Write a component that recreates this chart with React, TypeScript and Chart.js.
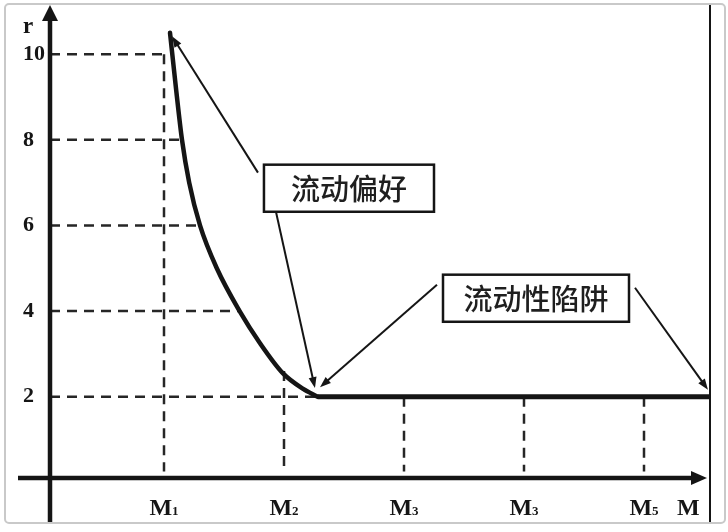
import React, { useEffect, useRef } from "react";
import { Chart, registerables } from "chart.js";

Chart.register(...registerables);

// ---- data ----
const yTicks = [2, 4, 6, 8, 10];
const xTicks = [1, 2, 3, 4, 5];
const xTickNames = ["M", "M", "M", "M", "M"];
const xTickSubs = ["1", "2", "3", "3", "5"];
const xAxisTitle = "M";
const yAxisTitle = "r";

// liquidity preference curve (M, r)
const curveM = [1.05, 1.1, 1.15, 1.21, 1.3, 1.44, 1.63, 1.8, 1.99, 2.16, 2.28];
const curveR = [10.5, 9.2, 8.0, 7.0, 6.0, 5.0, 4.0, 3.25, 2.55, 2.18, 2.0];
// liquidity trap (flat part)
const trapM = [2.28, 5.55];
const trapR = [2, 2];

// dashed guides
const hGuideR = [10, 8, 6, 4, 2];
const hGuideEndM = [1.0, 1.15, 1.3, 1.63, 2.28];
const vGuideM = [1, 2, 3, 4, 5];
const vGuideTopR = [10, 2.6, 2, 2, 2];

const labelTexts = ["流动偏好", "流动性陷阱"];

// ---- layout / annotation geometry (data coordinates) ----
const X_MIN = 0.05;
const X_MAX = 5.55;
const Y_MIN = 0.1;
const Y_MAX = 10.8;

const boxes = [
  { text: labelTexts[0], x0: 1.833, x1: 3.25, y0: 7.42, y1: 6.32 },
  { text: labelTexts[1], x0: 3.325, x1: 4.875, y0: 4.85, y1: 3.75 },
];
const pointers = [
  { fx: 1.783, fy: 7.235, tx: 1.067, ty: 10.42 },
  { fx: 1.933, fy: 6.32, tx: 2.258, ty: 2.2 },
  { fx: 3.275, fy: 4.615, tx: 2.3, ty: 2.22 },
  { fx: 4.925, fy: 4.544, tx: 5.533, ty: 2.16 },
];

const SERIF = "'Liberation Serif', 'Times New Roman', 'DejaVu Serif', serif";
const CJK = "'Noto Sans CJK SC', 'Noto Sans', sans-serif";
const INK = "#151515";

function arrowHead(ctx: CanvasRenderingContext2D, fx: number, fy: number, tx: number, ty: number, len: number, half: number) {
  const a = Math.atan2(ty - fy, tx - fx);
  const bx = tx - len * Math.cos(a);
  const by = ty - len * Math.sin(a);
  ctx.beginPath();
  ctx.moveTo(tx, ty);
  ctx.lineTo(bx + half * Math.sin(a), by - half * Math.cos(a));
  ctx.lineTo(bx - half * Math.sin(a), by + half * Math.cos(a));
  ctx.closePath();
  ctx.fill();
}

const decorPlugin = {
  id: "decor",
  beforeDraw(chart: any) {
    const ctx: CanvasRenderingContext2D = chart.ctx;
    ctx.save();
    ctx.fillStyle = "#ffffff";
    ctx.fillRect(0, 0, chart.width, chart.height);
    // outer picture frame
    ctx.strokeStyle = "#c9c9c9";
    ctx.lineWidth = 2;
    ctx.beginPath();
    (ctx as any).roundRect ? (ctx as any).roundRect(5, 4, 720, 519, 4) : ctx.rect(5, 4, 720, 519);
    ctx.stroke();
    // thin black right border line
    ctx.strokeStyle = INK;
    ctx.lineWidth = 2;
    ctx.beginPath();
    ctx.moveTo(chart.chartArea.right, 5);
    ctx.lineTo(chart.chartArea.right, 522);
    ctx.stroke();
    ctx.restore();
  },
  afterDatasetsDraw(chart: any) {
    const ctx: CanvasRenderingContext2D = chart.ctx;
    const xs = chart.scales.x;
    const ys = chart.scales.y;
    const ax = xs.getPixelForValue(X_MIN);
    const ay = ys.getPixelForValue(Y_MIN);
    const X = (v: number) => xs.getPixelForValue(v);
    const Y = (v: number) => ys.getPixelForValue(v);
    ctx.save();
    ctx.strokeStyle = INK;
    ctx.fillStyle = INK;

    // y axis with arrow
    ctx.lineWidth = 4.5;
    ctx.beginPath();
    ctx.moveTo(ax, 522);
    ctx.lineTo(ax, 19);
    ctx.stroke();
    ctx.beginPath();
    ctx.moveTo(ax, 5);
    ctx.lineTo(ax - 8, 21);
    ctx.lineTo(ax + 8, 21);
    ctx.closePath();
    ctx.fill();

    // x axis with arrow
    const tipX = chart.chartArea.right - 3;
    ctx.beginPath();
    ctx.moveTo(18, ay);
    ctx.lineTo(tipX - 14, ay);
    ctx.stroke();
    ctx.beginPath();
    ctx.moveTo(tipX, ay);
    ctx.lineTo(tipX - 16, ay - 7);
    ctx.lineTo(tipX - 16, ay + 7);
    ctx.closePath();
    ctx.fill();

    // pointer arrows
    ctx.lineWidth = 2;
    pointers.forEach((p) => {
      const fx = X(p.fx), fy = Y(p.fy), tx = X(p.tx), ty = Y(p.ty);
      const a = Math.atan2(ty - fy, tx - fx);
      ctx.beginPath();
      ctx.moveTo(fx, fy);
      ctx.lineTo(tx - 6 * Math.cos(a), ty - 6 * Math.sin(a));
      ctx.stroke();
      arrowHead(ctx, fx, fy, tx, ty, 11, 4);
    });

    // label boxes
    boxes.forEach((b) => {
      const x0 = X(b.x0), x1 = X(b.x1), y0 = Y(b.y0), y1 = Y(b.y1);
      ctx.fillStyle = "#ffffff";
      ctx.fillRect(x0, y0, x1 - x0, y1 - y0);
      ctx.strokeStyle = INK;
      ctx.lineWidth = 2.5;
      ctx.strokeRect(x0, y0, x1 - x0, y1 - y0);
      ctx.fillStyle = "#1f1f1f";
      ctx.font = `500 29px ${CJK}`;
      ctx.textAlign = "center";
      ctx.textBaseline = "middle";
      ctx.fillText(b.text, (x0 + x1) / 2, (y0 + y1) / 2 + 1);
    });

    // x tick labels (M with subscript)
    ctx.fillStyle = INK;
    ctx.textAlign = "left";
    ctx.textBaseline = "alphabetic";
    const bigFont = `bold 24px ${SERIF}`;
    const subFont = `bold 13px ${SERIF}`;
    xTicks.forEach((v, i) => {
      const px = X(v);
      ctx.font = bigFont;
      const w1 = ctx.measureText(xTickNames[i]).width;
      ctx.font = subFont;
      const w2 = ctx.measureText(xTickSubs[i]).width;
      const start = px - (w1 + w2) / 2;
      ctx.font = bigFont;
      ctx.fillText(xTickNames[i], start, 515);
      ctx.font = subFont;
      ctx.fillText(xTickSubs[i], start + w1, 515);
    });

    // axis titles
    ctx.font = bigFont;
    ctx.fillText(xAxisTitle, chart.chartArea.right - 33, 515);
    ctx.font = `bold 23px ${SERIF}`;
    ctx.fillText(yAxisTitle, 23, 33);

    ctx.restore();
  },
};

export default function App() {
  const ref = useRef<HTMLCanvasElement>(null);

  useEffect(() => {
    document.body.style.margin = "0";
    if (!ref.current) return;

    const guide = {
      borderColor: "#262626",
      borderWidth: 2.5,
      borderDash: [10, 7],
      pointRadius: 0,
      fill: false,
      tension: 0,
    };
    const datasets: any[] = [];
    datasets.push({
      data: curveM.map((m, i) => ({ x: m, y: curveR[i] })),
      borderColor: INK,
      borderWidth: 4.5,
      pointRadius: 0,
      fill: false,
      cubicInterpolationMode: "monotone",
      borderCapStyle: "round",
    });
    datasets.push({
      data: trapM.map((m, i) => ({ x: m, y: trapR[i] })),
      borderColor: INK,
      borderWidth: 5,
      pointRadius: 0,
      fill: false,
    });
    hGuideR.forEach((r, i) =>
      datasets.push({ ...guide, data: [{ x: X_MIN, y: r }, { x: hGuideEndM[i], y: r }] })
    );
    vGuideM.forEach((m, i) =>
      datasets.push({ ...guide, data: [{ x: m, y: vGuideTopR[i] }, { x: m, y: Y_MIN + 0.15 }] })
    );

    const chart = new Chart(ref.current, {
      type: "line",
      data: { datasets },
      plugins: [decorPlugin],
      options: {
        animation: false,
        responsive: true,
        maintainAspectRatio: false,
        events: [],
        layout: { padding: { left: 23, right: 18, top: 20, bottom: 54 } },
        plugins: { legend: { display: false }, tooltip: { enabled: false } },
        scales: {
          x: {
            type: "linear",
            display: false,
            min: X_MIN,
            max: X_MAX,
          },
          y: {
            type: "linear",
            position: "left",
            min: Y_MIN,
            max: Y_MAX,
            grid: { display: false, drawTicks: false },
            border: { display: false },
            afterBuildTicks: (s: any) => {
              s.ticks = yTicks.map((v) => ({ value: v }));
            },
            afterFit: (s: any) => {
              s.width = 27;
            },
            ticks: {
              crossAlign: "far",
              padding: 0,
              color: INK,
              font: { family: SERIF, size: 22, weight: "bold" },
              callback: (v: any) => String(v),
            },
          },
        },
      } as any,
    });

    return () => chart.destroy();
  }, []);

  return (
    <div style={{ width: 728, height: 532, position: "relative" }}>
      <canvas ref={ref} />
    </div>
  );
}
